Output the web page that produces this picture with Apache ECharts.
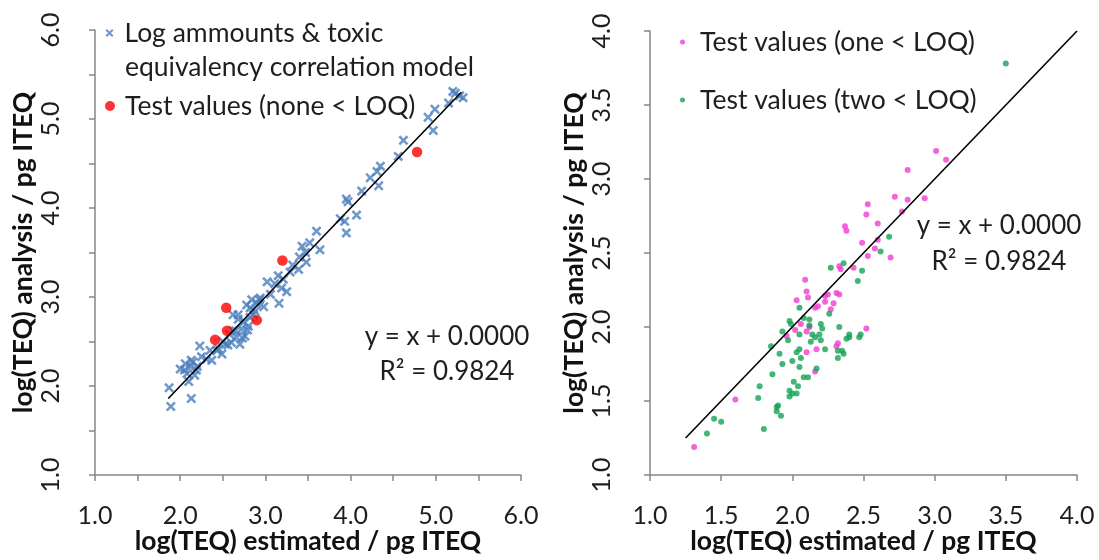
<!DOCTYPE html>
<html><head><meta charset="utf-8">
<script src="https://cdn.jsdelivr.net/npm/echarts@6/dist/echarts.min.js"></script>
<style>html,body{margin:0;padding:0;background:#fff}#c{width:1099px;height:560px}</style>
</head><body><div id="c"></div>
<script>
// Left panel: model points (log estimated, log analysis)
const modelPoints = [
 [1.89,1.77],[1.87,1.98],[2.13,1.86],[2.00,2.19],[2.06,2.25],[2.12,2.22],[2.15,2.27],[2.19,2.18],[2.08,2.14],[2.23,2.45],
 [2.13,2.29],[2.37,2.29],[2.43,2.40],[2.49,2.36],[2.53,2.47],[2.60,2.49],[2.66,2.55],[2.70,2.47],[2.62,2.62],[2.72,2.64],
 [2.80,2.67],[2.76,2.56],[2.82,2.77],[2.68,2.80],[2.62,2.80],[2.78,2.91],[2.84,2.97],[2.90,2.93],[2.98,2.89],[2.82,2.88],
 [3.02,3.17],[3.11,3.15],[3.19,3.10],[3.25,3.06],[3.15,3.24],[3.29,3.28],[2.94,2.99],[2.68,2.75],
 [3.39,3.31],[3.48,3.39],[3.43,3.57],[3.52,3.61],[3.60,3.74],[3.64,3.53],[3.47,3.50],[3.88,3.88],[3.93,3.85],[4.07,3.92],
 [3.95,3.72],[3.97,4.07],[3.95,4.10],[4.13,4.19],[4.23,4.34],[4.31,4.41],[4.35,4.47],[4.33,4.25],
 [4.56,4.58],[4.62,4.76],[4.97,4.87],[4.91,5.02],[4.99,5.11],[5.15,5.18],[5.23,5.29],[5.28,5.26],[5.32,5.24],[5.20,5.31],
 [2.05,2.18],[2.10,2.05],[2.17,2.12],[2.20,2.22],[2.25,2.33],[2.31,2.30],[2.35,2.40],[2.45,2.42],[2.50,2.50],[2.56,2.46],
 [2.58,2.58],[2.65,2.62],[2.73,2.54],[2.75,2.72],[2.79,2.63],[2.86,2.80],[2.88,2.84],[2.93,2.97],[3.06,3.03],[3.16,2.93],
 [3.21,3.20],[3.32,3.36],[3.40,3.45]
];
const testNone = [[2.41,2.52],[2.54,2.88],[2.55,2.62],[2.90,2.74],[3.20,3.41],[4.78,4.63]];
// Right panel
const testOne = [
 [1.31,1.19],[1.60,1.51],
 [2.09,2.32],[2.10,2.24],[2.11,2.20],[2.03,2.18],[2.16,2.13],[2.18,2.14],[2.23,2.21],[2.25,2.22],[2.31,2.23],[2.33,2.22],
 [2.29,2.16],[2.27,2.12],[2.23,2.17],[2.10,1.97],[2.12,2.00],[2.06,2.02],[2.02,1.98],[1.96,1.94],[2.32,1.89],[2.31,1.87],
 [2.52,1.99],[2.10,1.83],[2.17,1.85],[2.16,1.70],[2.33,2.41],[2.34,2.39],[2.43,2.40],[2.53,2.48],[2.69,2.47],
 [3.01,3.19],[3.08,3.13],[2.81,3.06],[2.72,2.88],[2.81,2.86],[2.93,2.87],[2.77,2.78],[2.53,2.83],[2.52,2.76],[2.60,2.70],
 [2.37,2.68],[2.38,2.65],[2.49,2.57],[2.60,2.59],[2.58,2.53]
];
const testTwo = [
 [1.40,1.28],[1.45,1.38],[1.50,1.36],[1.80,1.31],[1.77,1.60],[1.76,1.52],[1.86,1.68],[1.89,1.46],[1.90,1.47],[1.89,1.43],
 [1.92,1.40],[1.98,1.53],[2.00,1.55],[2.03,1.55],[2.04,1.60],[2.01,1.63],[2.08,1.66],[2.11,1.66],[2.05,1.73],
 [1.85,1.87],[1.91,1.82],[1.93,1.75],[1.93,1.97],[1.98,2.04],[1.99,2.02],[1.97,1.91],[2.00,1.77],[2.05,1.85],[2.03,1.83],
 [2.06,1.79],[1.98,1.57],[2.05,2.13],[2.05,1.95],[2.08,2.06],[2.12,2.05],[2.12,2.01],[2.14,1.95],[2.13,1.90],[2.16,1.93],
 [2.19,1.95],[2.20,2.02],[2.21,1.99],[2.23,1.85],[2.20,1.91],[2.26,2.09],[2.17,1.72],[2.32,1.79],[2.35,1.84],[2.33,2.00],
 [2.36,1.82],[2.40,1.95],[2.40,1.93],[2.47,1.93],[2.48,1.95],[2.38,1.92],[2.32,1.84],[2.27,2.40],[2.36,2.43],[2.49,2.38],
 [2.46,2.31],[2.68,2.61],[2.62,2.51],[3.50,3.78]
];
const fitLeft = [[1.86,1.86],[5.30,5.30]];
const fitRight = [[1.25,1.25],[4.00,4.00]];
const leftRange = [1, 6];
const rightRange = [1, 4];
const equationText = ['y = x + 0.0000', 'R\u00B2 = 0.9824'];
const modelLegendLines = ['Log ammounts & toxic', 'equivalency correlation model'];
const xName = 'log(TEQ) estimated / pg ITEQ';
const yName = 'log(TEQ) analysis / pg ITEQ';

const FONT = 'Lato, sans-serif';
const TXT = '#1e1e1e';
const AX = '#878787';
const LABEL_SIZE = 25;
const XPATH = 'path://M0,1.8L1.8,0L5,3.2L8.2,0L10,1.8L6.8,5L10,8.2L8.2,10L5,6.8L1.8,10L0,8.2L3.2,5Z';

function mkX(grid, range, labelAll) {
  return {
    gridIndex: grid, type: 'value', min: range[0], max: range[1], interval: 0.5,
    axisLine: {show: true, onZero: false, lineStyle: {color: AX, width: 1.5}},
    axisTick: {show: true, length: 6, lineStyle: {color: AX, width: 1.5}},
    splitLine: {show: false},
    axisLabel: {formatter: v => (labelAll || Number.isInteger(v)) ? v.toFixed(1) : '',
      fontSize: LABEL_SIZE, color: TXT, fontFamily: FONT, margin: 28, align: 'center', verticalAlign: 'top'},
    name: xName, nameLocation: 'middle', nameGap: 53, nameMoveOverlap: false,
    nameTextStyle: {fontSize: 26.5, fontWeight: 'bold', color: '#111', fontFamily: FONT, verticalAlign: 'top', align: 'center'}
  };
}
function mkY(grid, range, labelAll, margin, gap) {
  return {
    gridIndex: grid, type: 'value', min: range[0], max: range[1], interval: 0.5,
    axisLine: {show: true, onZero: false, lineStyle: {color: AX, width: 1.5}},
    axisTick: {show: true, length: 6, lineStyle: {color: AX, width: 1.5}},
    splitLine: {show: false},
    axisLabel: {formatter: v => (labelAll || Number.isInteger(v)) ? v.toFixed(1) : '',
      fontSize: LABEL_SIZE, color: TXT, fontFamily: FONT, margin: margin, rotate: 90},
    name: yName, nameLocation: 'middle', nameGap: gap, nameRotate: 90,
    nameTextStyle: {fontSize: 26.5, fontWeight: 'bold', color: '#111', fontFamily: FONT}
  };
}
const legText = {fontSize: 26.5, color: TXT, fontFamily: FONT, lineHeight: 34};
const eqStyle = {fontSize: 26, fontFamily: FONT, fill: TXT, align: 'center', verticalAlign: 'middle'};

const chart = echarts.init(document.getElementById('c'), null, {renderer: 'canvas'});
chart.setOption({
  animation: false,
  backgroundColor: '#fff',
  grid: [
    {left: 95, top: 30, width: 426, height: 454},
    {left: 650, top: 31, width: 427, height: 452}
  ],
  xAxis: [mkX(0, leftRange, false), mkX(1, rightRange, true)],
  yAxis: [mkY(0, leftRange, false, 32, 53), mkY(1, rightRange, true, 36, 52)],
  legend: [
    {data: ['Log ammounts & toxic equivalency correlation model'], left: 105.5, top: 16, padding: 0,
     itemWidth: 8, itemHeight: 8, selectedMode: false,
     formatter: () => modelLegendLines[0],
     textStyle: Object.assign({}, legText, {padding: [0, 0, 0, 6]})},
    {data: ['Test values (none < LOQ)'], left: 105, top: 89, padding: 0,
     itemWidth: 10, itemHeight: 10, selectedMode: false,
     textStyle: Object.assign({}, legText, {padding: [0, 0, 0, 5]})},
    {data: ['Test values (one < LOQ)'], left: 680, top: 25, padding: 0,
     itemWidth: 5, itemHeight: 5, selectedMode: false,
     textStyle: Object.assign({}, legText, {padding: [0, 0, 0, 10]})},
    {data: ['Test values (two < LOQ)'], left: 680, top: 83, padding: 0,
     itemWidth: 5, itemHeight: 5, selectedMode: false,
     textStyle: Object.assign({}, legText, {padding: [0, 0, 0, 10]})}
  ],
  graphic: [
    {type: 'text', x: 125, y: 67, style: {text: modelLegendLines[1], fontSize: 26.5, fontFamily: FONT, fill: TXT, align: 'left', verticalAlign: 'middle'}},
    {type: 'text', x: 447, y: 337, style: Object.assign({text: equationText[0]}, eqStyle)},
    {type: 'text', x: 447, y: 372, style: Object.assign({text: equationText[1]}, eqStyle)},
    {type: 'text', x: 999, y: 226, style: Object.assign({text: equationText[0]}, eqStyle)},
    {type: 'text', x: 999, y: 262, style: Object.assign({text: equationText[1]}, eqStyle)}
  ],
  series: [
    {type: 'scatter', name: 'Log ammounts & toxic equivalency correlation model', xAxisIndex: 0, yAxisIndex: 0,
     data: modelPoints, symbol: XPATH, symbolSize: 10, itemStyle: {color: '#4A7EBB'}},
    {type: 'line', name: 'fitL', xAxisIndex: 0, yAxisIndex: 0, data: fitLeft, showSymbol: false, silent: true,
     lineStyle: {color: '#000', width: 1.6}},
    {type: 'scatter', name: 'Test values (none < LOQ)', xAxisIndex: 0, yAxisIndex: 0,
     data: testNone, symbol: 'circle', symbolSize: 10.5, itemStyle: {color: '#FF0000'}},
    {type: 'scatter', name: 'Test values (one < LOQ)', xAxisIndex: 1, yAxisIndex: 1,
     data: testOne, symbol: 'circle', symbolSize: 6, itemStyle: {color: '#F03CD0'}},
    {type: 'scatter', name: 'Test values (two < LOQ)', xAxisIndex: 1, yAxisIndex: 1,
     data: testTwo, symbol: 'circle', symbolSize: 6, itemStyle: {color: '#14A354'}},
    {type: 'line', name: 'fitR', xAxisIndex: 1, yAxisIndex: 1, data: fitRight, showSymbol: false, silent: true,
     lineStyle: {color: '#000', width: 1.6}}
  ]
});
</script></body></html>
